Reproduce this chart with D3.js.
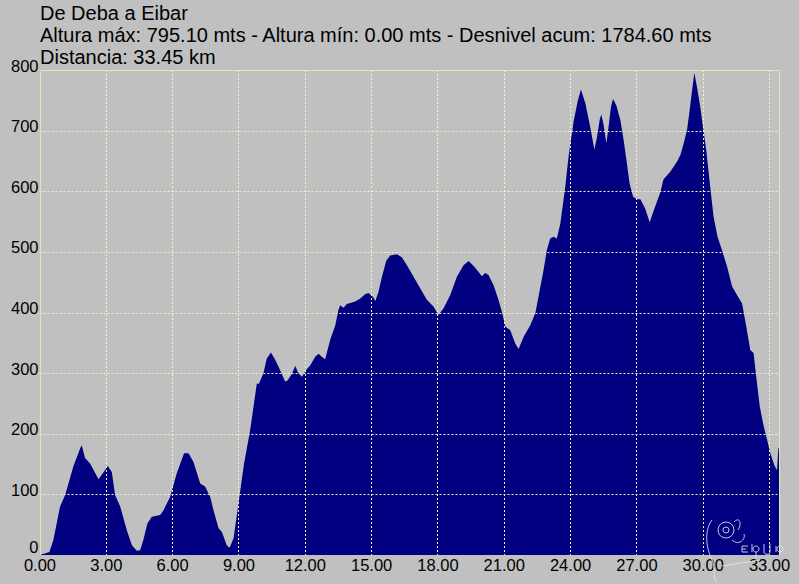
<!DOCTYPE html>
<html>
<head>
<meta charset="utf-8">
<script src="https://cdn.jsdelivr.net/npm/d3@7"></script>
<style>
html,body{margin:0;padding:0;background:#c0c0c0;}
svg{display:block;}
text{font-family:"Liberation Sans",Arial,sans-serif;}
</style>
</head>
<body>
<svg id="chart" width="799" height="584"></svg>
<script>
const titleLines = [
  "De Deba a Eibar",
  "Altura máx: 795.10 mts - Altura mín: 0.00 mts - Desnivel acum: 1784.60 mts",
  "Distancia: 33.45 km"
];
const distance = [0,0.2,0.45,0.63,0.93,1.16,1.53,1.84,1.91,2.06,2.29,2.67,2.89,3.09,3.27,3.42,3.65,3.95,4.18,4.40,4.55,4.70,4.88,5.08,5.46,5.61,5.91,6.21,6.54,6.74,6.96,7.27,7.49,7.72,7.87,8.10,8.25,8.47,8.60,8.78,9.00,9.25,9.53,9.83,9.92,10.13,10.28,10.47,10.66,10.88,11.11,11.22,11.42,11.57,11.69,11.87,12.06,12.25,12.47,12.62,12.77,12.92,13.15,13.38,13.52,13.60,13.75,13.90,14.28,14.51,14.73,14.88,15.08,15.19,15.33,15.49,15.68,15.86,16.17,16.39,16.62,16.92,17.22,17.52,17.82,18.05,18.28,18.58,18.88,19.18,19.41,19.63,19.86,20.01,20.16,20.31,20.54,20.76,20.92,21.07,21.29,21.52,21.67,21.90,22.20,22.43,22.57,22.80,22.95,23.10,23.25,23.40,23.56,23.78,23.93,24.16,24.34,24.49,24.69,24.91,25.10,25.22,25.34,25.41,25.52,25.64,25.74,25.85,25.94,26.09,26.27,26.42,26.57,26.69,26.85,27.03,27.18,27.40,27.60,27.80,28.08,28.20,28.23,28.53,28.84,28.99,29.14,29.29,29.41,29.52,29.62,29.74,29.89,30.01,30.16,30.34,30.49,30.67,30.87,31.10,31.33,31.55,31.78,31.97,32.15,32.30,32.42,32.58,32.76,32.91,33.06,33.24,33.36,33.42,33.45];
const elevation = [0,2,5,25,80,99,146,176,181,160,151,125,136,147,137,99,80,41,16,7,8,25,52,63,66,74,96,135,168,168,154,118,113,96,74,44,38,16,12,28,85,150,206,283,282,300,324,334,322,305,286,288,299,312,301,294,305,313,327,332,327,323,355,379,404,412,408,414,418,423,430,432,426,419,434,459,485,494,496,491,478,459,440,421,410,396,407,429,459,478,485,477,467,460,465,462,445,421,401,377,371,349,340,360,379,399,426,470,503,522,525,522,547,607,657,715,748,768,745,706,669,690,718,727,709,679,706,739,752,742,718,685,646,613,591,587,587,571,549,570,598,616,620,632,649,660,679,701,734,767,795.1,772,739,706,668,607,558,525,503,476,443,429,415,377,338,333,294,245,212,190,168,148,140,176,176];
const yTicks = [0,100,200,300,400,500,600,700,800];
const xTicks = [0,3,6,9,12,15,18,21,24,27,30,33];

const data = distance.map((d,i)=>({d:d, v:elevation[i]}));
const svg = d3.select("#chart");
const W = 799, H = 584;
svg.append("rect").attr("width",W).attr("height",H).attr("fill","#c0c0c0");

const x = d3.scaleLinear().domain([0,33.45]).range([39.5,779]);
const y = d3.scaleLinear().domain([0,800]).range([555,70]);

// area
const area = d3.area().x(p=>x(p.d)).y0(y(0)).y1(p=>y(p.v)).curve(d3.curveLinear);
svg.append("path").datum(data).attr("d",area).attr("fill","#000080");

// grid
const gridColor = "#f4f4c8";
svg.append("g").selectAll("line").data(yTicks.filter(t=>t>0 && t<800)).join("line")
  .attr("x1",x(0)).attr("x2",x(33.45)).attr("y1",t=>Math.round(y(t))+0.5).attr("y2",t=>Math.round(y(t))+0.5)
  .attr("stroke",gridColor).attr("stroke-width",1).attr("stroke-dasharray","2,2");
svg.append("g").selectAll("line").data(xTicks.filter(t=>t>0)).join("line")
  .attr("x1",t=>Math.round(x(t))+0.5).attr("x2",t=>Math.round(x(t))+0.5).attr("y1",y(800)).attr("y2",y(0))
  .attr("stroke",gridColor).attr("stroke-width",1).attr("stroke-dasharray","2,2");
// border
const bc = "#e6e6b4";
svg.append("path").attr("d",`M${Math.round(x(0))+0.5},${y(0)}V${Math.round(y(800))+0.5}H${Math.round(x(33.45))+0.5}V${y(0)}`)
  .attr("fill","none").attr("stroke",bc).attr("stroke-width",1);

// y axis labels
const yAxis = d3.axisLeft(y).tickValues(yTicks).tickSize(0).tickPadding(1).tickFormat(d3.format("d"));
const gy = svg.append("g").attr("transform",`translate(${x(0)},0)`).call(yAxis);
gy.select(".domain").remove();
gy.selectAll("text").attr("font-size","16.5px").attr("fill","#000")
  .attr("dy",d=>d===0 ? "-3" : "1")
  .attr("font-family","Liberation Sans, Arial, sans-serif");

// x axis labels
const xAxis = d3.axisBottom(x).tickValues(xTicks).tickSize(0).tickPadding(0).tickFormat(d3.format(".2f"));
const gx = svg.append("g").attr("transform",`translate(0,${y(0)})`).call(xAxis);
gx.select(".domain").remove();
gx.selectAll("text").attr("font-size","16.5px").attr("fill","#000").attr("dy","0").attr("y",16)
  .attr("font-family","Liberation Sans, Arial, sans-serif");

// titles
svg.append("g").selectAll("text").data(titleLines).join("text")
  .attr("x",40).attr("y",(d,i)=>19.5+i*22.4)
  .attr("font-size","20px").attr("fill","#000").text(d=>d);

// watermark (decorative)
const wm = svg.append("g").attr("fill","none").attr("stroke","#e8e8f0").attr("stroke-width",1).attr("opacity",0.85);
wm.append("path").attr("d","M712,520 C704,530 706,548 712,560 C716,568 712,576 716,582");
wm.append("ellipse").attr("cx",726).attr("cy",530).attr("rx",8).attr("ry",8);
wm.append("circle").attr("cx",726).attr("cy",530).attr("r",3);
wm.append("path").attr("d","M734,522 C740,516 742,524 738,530 M732,540 C738,546 746,540 744,534");
wm.append("path").attr("d","M742,552 V546 H748 M742,549 H746 M742,552 H748 M752,544 V552 M756,546 C752,546 752,552 756,552 C760,552 760,546 756,546 M756,552 V558 M764,544 V552 C764,555 770,555 770,552 V544 M776,546 V552 M780,546 C776,546 776,552 780,552 C784,552 784,546 780,546");
wm.append("path").attr("d","M722,566 L760,560");
</script>
</body>
</html>
